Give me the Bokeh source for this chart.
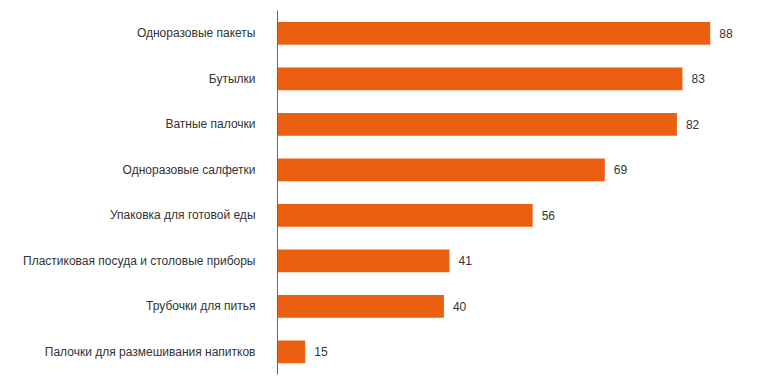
from bokeh.plotting import figure
from bokeh.models import ColumnDataSource
from bokeh.core.properties import value
from bokeh.embed import file_html
from bokeh.resources import INLINE

categories = [
    "Одноразовые пакеты",
    "Бутылки",
    "Ватные палочки",
    "Одноразовые салфетки",
    "Упаковка для готовой еды",
    "Пластиковая посуда и столовые приборы",
    "Трубочки для питья",
    "Палочки для размешивания напитков",
]
values = [88, 83, 82, 69, 56, 41, 40, 15]
labels = [str(v) for v in values]

src = ColumnDataSource(dict(cat=categories, val=values, lab=labels))

p = figure(
    width=753, height=380,
    y_range=list(reversed(categories)),
    x_range=(10, 94),
    output_backend="svg", toolbar_location=None,
    min_border_left=277, min_border_right=10,
    min_border_top=10, min_border_bottom=6,
)
p.hbar(y="cat", right="val", left=0, height=0.5, source=src,
       fill_color="#EB6010", line_color=None)
p.text(x="val", y="cat", text="lab", source=src, x_offset=9,
       text_baseline="middle", text_align="left",
       text_font=value("Liberation Sans"), text_font_size="12px",
       text_color="#333333")

p.xaxis.visible = False
p.xgrid.visible = False
p.ygrid.visible = False
p.outline_line_color = None
ax = p.yaxis[0]
ax.axis_line_color = "#666666"
ax.axis_line_width = 1
ax.major_tick_line_color = None
ax.minor_tick_line_color = None
ax.major_label_standoff = 16
ax.major_label_text_font = "Liberation Sans"
ax.major_label_text_font_size = "12px"
ax.major_label_text_color = "#333333"

open("out.html", "w").write(file_html(p, INLINE))
